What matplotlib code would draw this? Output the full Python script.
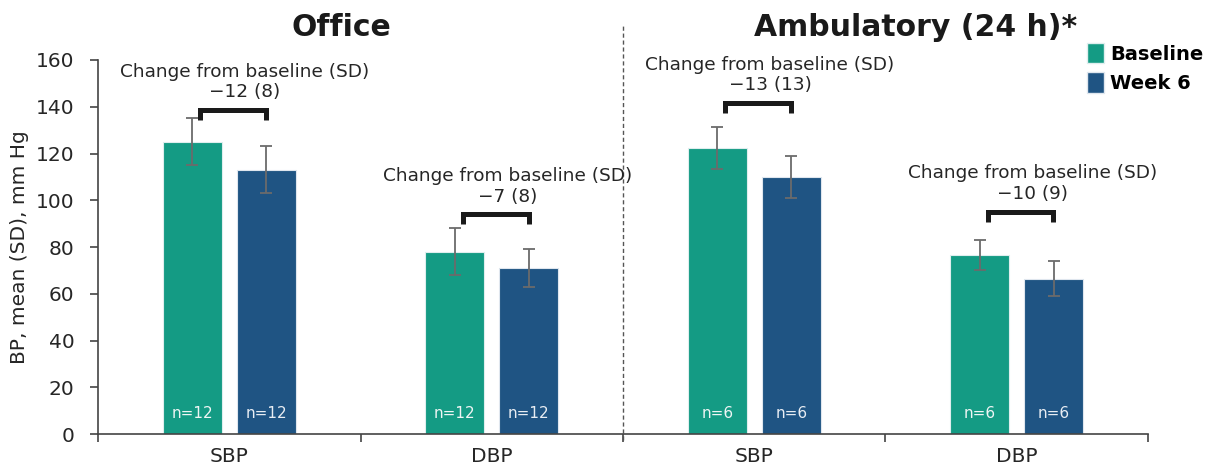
import numpy as np
import matplotlib
matplotlib.use('Agg')
import matplotlib.pyplot as plt
from matplotlib.patches import Patch

# data
categories = ['SBP', 'DBP', 'SBP', 'DBP']
panels = ['Office', 'Ambulatory (24 h)*']
baseline = [125, 78, 122.5, 76.5]
baseline_sd = [10, 10, 9, 6.5]
week6 = [113, 71, 110, 66.5]
week6_sd = [10, 8, 9, 7.5]
n_baseline = [12, 12, 6, 6]
n_week6 = [12, 12, 6, 6]
change_txt = ['\u221212 (8)', '\u22127 (8)', '\u221213 (13)', '\u221210 (9)']
bracket_y = [138.5, 94, 141.5, 95]

c_base = '#149b84'
c_wk6 = '#1f5483'

plt.rcParams['font.family'] = ['DejaVu Sans']
fig = plt.figure(figsize=(12.09, 4.68), dpi=100)
ax = fig.add_axes([0.0811, 0.0726, 0.8684, 0.7992])

x = np.arange(len(categories))
w = 0.225
off = 0.141

ax.bar(x - off, baseline, w, color=c_base, edgecolor='#dfeeee', linewidth=0.8, zorder=2)
ax.bar(x + off, week6, w, color=c_wk6, edgecolor='#dfe6ee', linewidth=0.8, zorder=2)
ax.errorbar(x - off, baseline, yerr=baseline_sd, fmt='none', ecolor='#6b6b6b',
            elinewidth=1.3, capsize=4, capthick=1.3, zorder=3)
ax.errorbar(x + off, week6, yerr=week6_sd, fmt='none', ecolor='#6b6b6b',
            elinewidth=1.3, capsize=4, capthick=1.3, zorder=3)

for i in range(len(categories)):
    ax.text(x[i] - off, 8.8, 'n=%d' % n_baseline[i], ha='center', va='center',
            color='#eef5f4', fontsize=11, zorder=4)
    ax.text(x[i] + off, 8.8, 'n=%d' % n_week6[i], ha='center', va='center',
            color='#e8edf3', fontsize=11, zorder=4)
    # bracket
    yb = bracket_y[i]
    x0, x1 = x[i] - 0.11, x[i] + 0.14
    ax.plot([x0, x0, x1, x1], [yb - 4.2, yb, yb, yb - 4.2], color='#1a1a1a', lw=3.6,
            solid_joinstyle='miter', solid_capstyle='butt', clip_on=False, zorder=4)
    ax.text(x[i] + 0.06, yb + 16.5, 'Change from baseline (SD)', ha='center', va='center',
            fontsize=13.3, color='#262626', clip_on=False)
    ax.text(x[i] + 0.06, yb + 7.6, change_txt[i], ha='center', va='center',
            fontsize=13.3, color='#262626', clip_on=False)

ax.set_xlim(-0.5, 3.5)
ax.set_ylim(0, 160)
ax.set_yticks(np.arange(0, 161, 20))
ax.set_xticks(x)
ax.set_xticklabels(categories)
ax.set_xticks(np.arange(-0.5, 3.6, 1), minor=True)
ax.tick_params(axis='x', which='major', length=0, pad=9, labelsize=14.5, labelcolor='#262626')
ax.tick_params(axis='x', which='minor', length=6, width=1.2, color='#444444', direction='out')
ax.tick_params(axis='y', length=6, width=1.2, color='#444444', pad=11, labelsize=14.5,
               labelcolor='#262626')
for s in ['top', 'right']:
    ax.spines[s].set_visible(False)
for s in ['left', 'bottom']:
    ax.spines[s].set_color('#444444')
    ax.spines[s].set_linewidth(1.2)
ax.set_ylabel('BP, mean (SD), mm Hg', fontsize=14.5, color='#262626', labelpad=5)

# divider between panels
ax.axvline(1.5, ymin=-0.016, ymax=1.094, color='#555555', lw=1, ls=(0, (3, 2)), clip_on=False)

ax.text(0.426, 174, panels[0], ha='center', va='center', fontsize=21.5, fontweight='bold',
        color='#1a1a1a', clip_on=False)
ax.text(2.616, 174, panels[1], ha='center', va='center', fontsize=21.5, fontweight='bold',
        color='#1a1a1a', clip_on=False)

handles = [Patch(facecolor=c_base, edgecolor='#dfeeee'), Patch(facecolor=c_wk6, edgecolor='#dfe6ee')]
fig.legend(handles, ['Baseline', 'Week 6'], loc='upper left', bbox_to_anchor=(0.893, 0.925),
           frameon=False, prop={'weight': 'bold', 'size': 14}, handlelength=0.85,
           handleheight=1.25, handletextpad=0.3, labelspacing=0.45, borderaxespad=0)

fig.savefig('out.png', dpi=100)
